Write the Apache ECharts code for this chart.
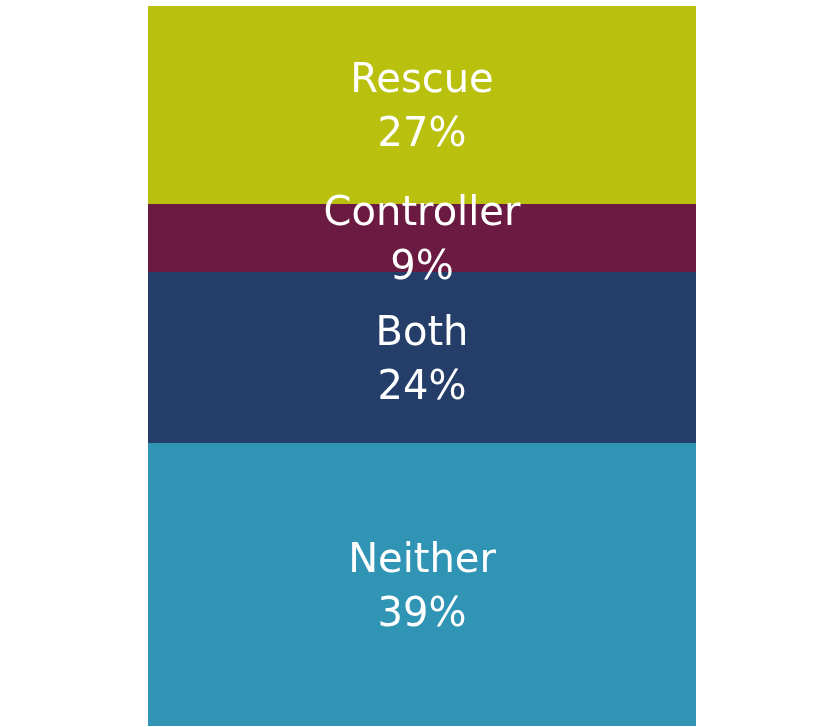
<!DOCTYPE html>
<html><head><meta charset="utf-8">
<script src="https://cdn.jsdelivr.net/npm/echarts@6/dist/echarts.min.js"></script>
<style>html,body{margin:0;padding:0;background:#fff}#c{width:826px;height:727px}</style>
</head><body><div id="c"></div>
<script>
// bottom-to-top stack order
const categories = ['Neither', 'Both', 'Controller', 'Rescue'];
const values = [38.9, 23.5, 9.35, 27.2];
const percentLabels = [39, 24, 9, 27];
const colors = ['#3094b4', '#243e69', '#6b1a41', '#b9c00d'];

const total = values.reduce((a, b) => a + b, 0);
const chart = echarts.init(document.getElementById('c'));
chart.setOption({
  animation: false,
  grid: { left: 148, width: 548, top: 6, height: 720 },
  xAxis: { type: 'category', data: ['All'], show: false },
  yAxis: { type: 'value', min: 0, max: total, show: false },
  series: categories.map((name, i) => ({
    name, type: 'bar', stack: 'all', barWidth: '100%',
    data: [values[i]],
    itemStyle: { color: colors[i] },
    label: {
      show: true, position: 'inside', color: '#fff', offset: [0, 4],
      fontFamily: 'DejaVu Sans, sans-serif', fontSize: 40, lineHeight: 54,
      formatter: name + '\n' + percentLabels[i] + '%'
    }
  }))
});
</script></body></html>
